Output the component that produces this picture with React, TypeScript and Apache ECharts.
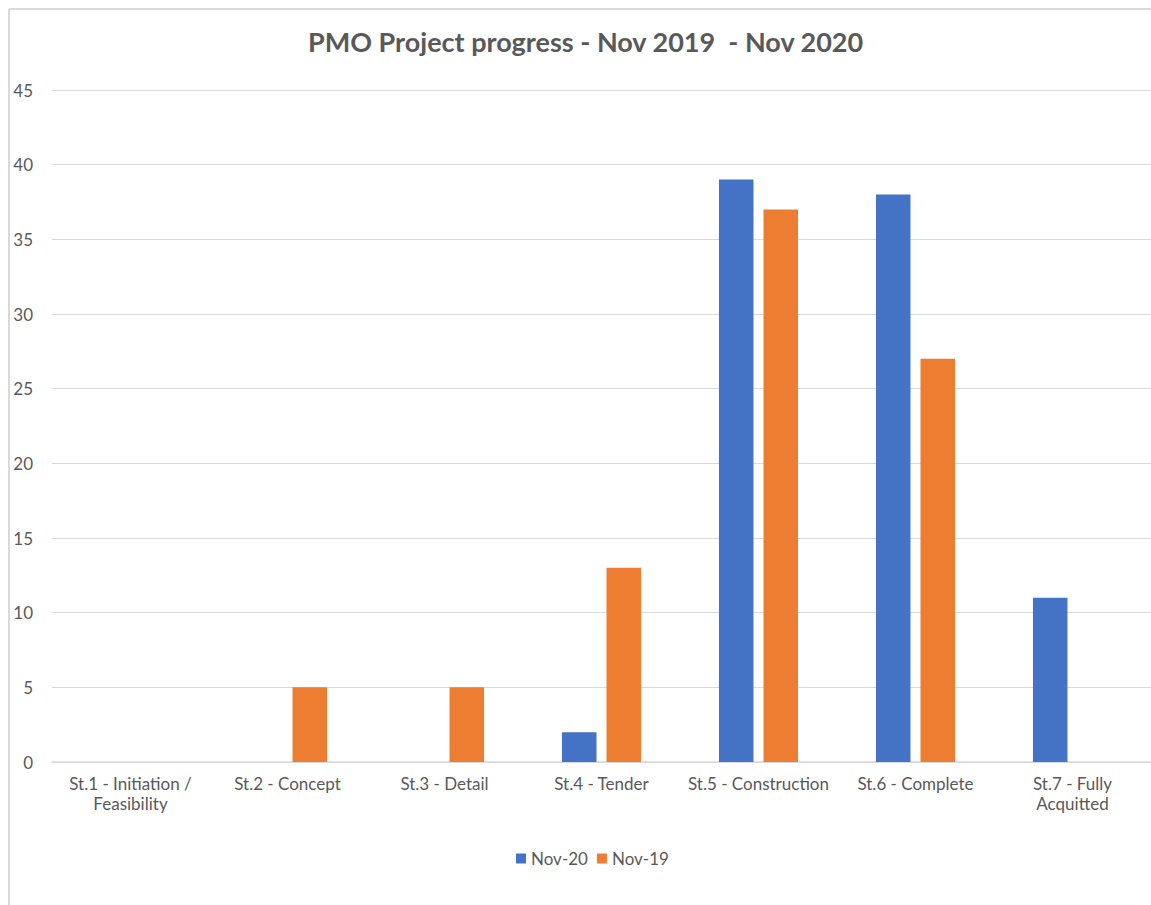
import React, { useEffect, useRef } from "react";
import * as echarts from "echarts";

const categories = [
  "St.1 - Initiation /\nFeasibility",
  "St.2 - Concept",
  "St.3 - Detail",
  "St.4 - Tender",
  "St.5 - Construction",
  "St.6 - Complete",
  "St.7 - Fully\nAcquitted",
];
const nov20 = [0, 0, 0, 2, 39, 38, 11];
const nov19 = [0, 5, 5, 13, 37, 27, 0];
const seriesNames = ["Nov-20", "Nov-19"];
const titleText = "PMO Project progress - Nov 2019  - Nov 2020";

const FONT = "Lato";
const TEXT = "#595959";

export default function App() {
  const ref = useRef<HTMLDivElement>(null);
  useEffect(() => {
    if (!ref.current) return;
    const chart = echarts.init(ref.current, undefined, { renderer: "svg" });
    chart.setOption({
      animation: false,
      backgroundColor: "#ffffff",
      title: {
        text: titleText,
        left: 303,
        top: 23,
        textStyle: { fontFamily: FONT, fontSize: 27, fontWeight: "bold", color: TEXT },
      },
      graphic: [
        { type: "line", shape: { x1: 9, y1: 9, x2: 1151, y2: 9 }, style: { stroke: "#d9d9d9", lineWidth: 2 } },
        { type: "line", shape: { x1: 9, y1: 9, x2: 9, y2: 905 }, style: { stroke: "#d9d9d9", lineWidth: 2 } },
      ],
      legend: {
        data: seriesNames,
        bottom: 33,
        left: 511,
        itemWidth: 10,
        itemHeight: 10,
        itemGap: 9,
        icon: "rect",
        textStyle: { fontFamily: FONT, fontSize: 17, color: TEXT },
      },
      grid: { left: 52, right: 0, top: 90, bottom: 143, containLabel: false },
      xAxis: {
        type: "category",
        data: categories,
        axisTick: { show: false },
        axisLine: { lineStyle: { color: "#d9d9d9", width: 1.5 } },
        axisLabel: {
          interval: 0,
          fontFamily: FONT,
          fontSize: 17,
          color: TEXT,
          lineHeight: 20,
          margin: 11,
        },
      },
      yAxis: {
        type: "value",
        min: 0,
        max: 45,
        interval: 5,
        axisLine: { show: false },
        axisTick: { show: false },
        splitLine: { lineStyle: { color: "#d9d9d9", width: 1 } },
        axisLabel: { fontFamily: FONT, fontSize: 17, color: TEXT, margin: 19 },
      },
      series: [
        {
          name: seriesNames[0],
          type: "bar",
          data: nov20,
          barWidth: "22%",
          barGap: "29%",
          itemStyle: { color: "#4472C4" },
        },
        {
          name: seriesNames[1],
          type: "bar",
          data: nov19,
          barWidth: "22%",
          itemStyle: { color: "#ED7D31" },
        },
      ],
    });
    return () => chart.dispose();
  }, []);
  return (
    <div
      ref={ref}
      style={{ position: "fixed", left: 0, top: 0, width: 1151, height: 905 }}
    />
  );
}
